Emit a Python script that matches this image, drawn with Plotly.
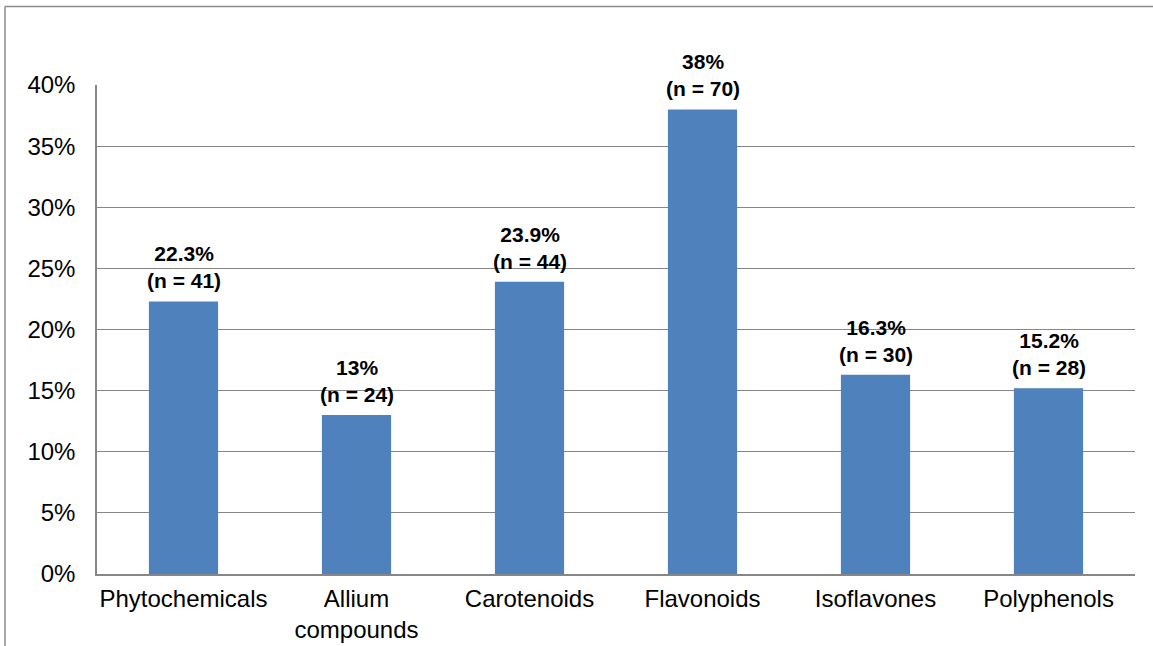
import plotly.graph_objects as go

categories = ["Phytochemicals", "Allium<br>compounds", "Carotenoids", "Flavonoids", "Isoflavones", "Polyphenols"]
percent_values = [22.3, 13, 23.9, 38, 16.3, 15.2]
counts = [41, 24, 44, 70, 30, 28]
y_ticks = [0, 5, 10, 15, 20, 25, 30, 35, 40]
y_tick_labels = ["0%", "5%", "10%", "15%", "20%", "25%", "30%", "35%", "40%"]

W, H = 1153, 646
ML, MR, MT, MB = 97, 18, 85, 72

fig = go.Figure()
fig.add_trace(go.Bar(
    x=categories,
    y=percent_values,
    marker=dict(color="#4F81BD", line=dict(width=0)),
    width=0.4,
    hoverinfo="skip",
))

for c, v, n in zip(categories, percent_values, counts):
    fig.add_annotation(
        x=c, y=v, xref="x", yref="y",
        text=f"<b>{v:g}%<br>(n = {n})</b>",
        showarrow=False, yanchor="bottom", yshift=7,
        font=dict(family="Liberation Sans, Arial", size=21, color="black"),
    )

# outer frame lines (top and left)
pw = W - ML - MR
ph = H - MT - MB
x_left = (5 - ML) / pw
y_top = (H - 6.5 - MB) / ph
y_bottom = (0 - MB) / ph
fig.add_shape(type="line", xref="paper", yref="paper", x0=x_left, x1=(W - ML) / pw + 0.01,
              y0=y_top, y1=y_top, line=dict(color="#8c8c8c", width=1.5))
fig.add_shape(type="line", xref="paper", yref="paper", x0=x_left, x1=x_left,
              y0=y_bottom - 0.01, y1=y_top, line=dict(color="#8c8c8c", width=1.5))

fig.update_layout(
    width=W, height=H,
    margin=dict(l=ML, r=MR, t=MT, b=MB, autoexpand=False),
    paper_bgcolor="white", plot_bgcolor="white",
    showlegend=False,
    font=dict(family="Liberation Sans, Arial", size=24, color="black"),
    bargap=0.6,
)
fig.update_xaxes(
    showline=True, linecolor="#868686", linewidth=1.5,
    showgrid=False, ticks="", tickfont=dict(size=24),
    ticklabelstandoff=2, automargin=False,
)
fig.update_yaxes(
    range=[0, 40], tickmode="array", tickvals=y_ticks, ticktext=y_tick_labels,
    showgrid=True, gridcolor="#868686", gridwidth=1.2,
    showline=True, linecolor="#868686", linewidth=1.5,
    zeroline=False, ticks="", ticklabelstandoff=15,
    tickfont=dict(size=24), automargin=False,
)

fig.write_html("out.html")
